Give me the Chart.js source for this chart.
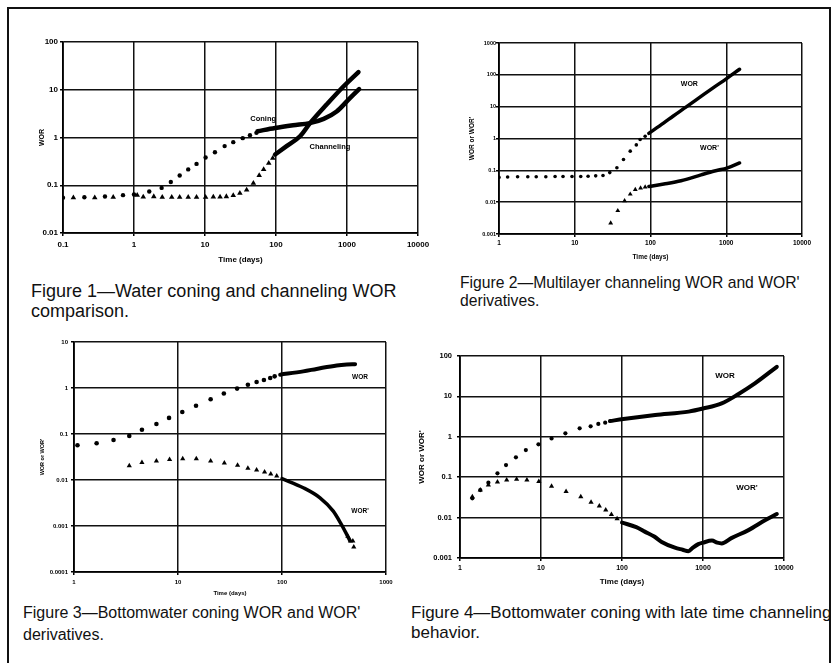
<!DOCTYPE html>
<html>
<head>
<meta charset="utf-8">
<script src="https://cdn.jsdelivr.net/npm/chart.js@4.4.1/dist/chart.umd.min.js"></script>
<style>
  body { margin: 0; background: #fff; width: 831px; height: 663px; overflow: hidden; position: relative; font-family: 'Liberation Sans', Arial, sans-serif; }
  .frame { position: absolute; left: 7px; top: 7px; width: 820px; height: 700px; border: 2px solid #111; }
  canvas { position: absolute; }
  .cap { position: absolute; white-space: nowrap; color: #111; line-height: 1; }
</style>
</head>
<body>
<div class="frame"></div>
<canvas id="fig1"></canvas>
<canvas id="fig2"></canvas>
<canvas id="fig3"></canvas>
<canvas id="fig4"></canvas>

<div class="cap" style="left:31px;top:282px;font-size:18px">Figure 1—Water coning and channeling WOR</div>
<div class="cap" style="left:31px;top:302px;font-size:18px">comparison.</div>
<div class="cap" style="left:460px;top:274.5px;font-size:15.7px">Figure 2—Multilayer channeling WOR and WOR'</div>
<div class="cap" style="left:460px;top:292.5px;font-size:15.7px">derivatives.</div>
<div class="cap" style="left:23px;top:604.5px;font-size:16px">Figure 3—Bottomwater coning WOR and WOR'</div>
<div class="cap" style="left:23px;top:627px;font-size:16px">derivatives.</div>
<div class="cap" style="left:411px;top:603.5px;font-size:17px">Figure 4—Bottomwater coning with late time channeling</div>
<div class="cap" style="left:411px;top:624px;font-size:17px">behavior.</div>

<script>
// Figure 1 - water coning vs channeling
const fig1XTicks = [0.1, 1, 10, 100, 1000, 10000]
const fig1XLabels = ['0.1', '1', '10', '100', '1000', '10000']
const fig1YTicks = [0.01, 0.1, 1, 10, 100]
const fig1YLabels = ['0.01', '0.1', '1', '10', '100']

const fig1ConingDotX = [0.1, 0.2, 0.39, 0.7, 1.0, 1.64, 2.45, 3.3, 4.4, 5.8, 7.6, 10.2, 13.8, 18.9, 25, 34, 43, 53]
const fig1ConingDotY = [0.055, 0.056, 0.058, 0.062, 0.064, 0.074, 0.088, 0.117, 0.16, 0.215, 0.28, 0.38, 0.49, 0.66, 0.8, 0.97, 1.12, 1.25]
const fig1ConingLineX = [55, 97, 174, 300, 470, 715, 1100, 1480]
const fig1ConingLineY = [1.35, 1.58, 1.8, 2.0, 2.45, 3.5, 6.7, 10.3]

const fig1ChanDotX = [0.14, 0.28, 0.51, 1.11, 1.35, 1.9, 2.5, 3.4, 4.4, 5.8, 7.6, 10.2, 13.1, 16.3, 20, 25, 31, 38.6, 48, 58, 67, 79, 90]
const fig1ChanDotY = [0.055, 0.055, 0.056, 0.062, 0.057, 0.058, 0.056, 0.056, 0.056, 0.056, 0.056, 0.056, 0.057, 0.057, 0.058, 0.061, 0.068, 0.08, 0.11, 0.16, 0.215, 0.29, 0.37]
const fig1ChanLineX = [97, 141, 218, 302, 516, 890, 1450]
const fig1ChanLineY = [0.44, 0.66, 1.06, 2.0, 4.9, 11.7, 23.5]

// Figure 2 - multilayer channeling
const fig2XTicks = [1, 10, 100, 1000, 10000]
const fig2XLabels = ['1', '10', '100', '1000', '10000']
const fig2YTicks = [0.001, 0.01, 0.1, 1, 10, 100, 1000]
const fig2YLabels = ['0.001', '0.01', '0.1', '1', '10', '100', '1000']

const fig2WorDotX = [1.0, 1.3, 1.76, 2.4, 3.1, 4.15, 5.5, 7.0, 9.2, 12, 15, 18.9, 23.6, 29, 36, 44, 54, 65, 73, 85]
const fig2WorDotY = [0.06, 0.062, 0.063, 0.063, 0.063, 0.063, 0.064, 0.064, 0.064, 0.064, 0.065, 0.067, 0.069, 0.085, 0.12, 0.22, 0.4, 0.63, 0.93, 1.18]
const fig2WorLineX = [95, 150, 200, 300, 500, 700, 1000, 1500]
const fig2WorLineY = [1.45, 3.1, 5.1, 10, 24, 42, 75, 150]
const fig2DerDotX = [29.8, 37, 45.5, 54, 63, 74, 85]
const fig2DerDotY = [0.0022, 0.0054, 0.011, 0.0178, 0.025, 0.0276, 0.03]
const fig2DerLineX = [95, 150, 253, 465, 700, 1040, 1500]
const fig2DerLineY = [0.031, 0.037, 0.047, 0.072, 0.095, 0.12, 0.17]

// Figure 3 - bottomwater coning
const fig3XTicks = [1, 10, 100, 1000]
const fig3XLabels = ['1', '10', '100', '1000']
const fig3YTicks = [0.0001, 0.001, 0.01, 0.1, 1, 10]
const fig3YLabels = ['0.0001', '0.001', '0.01', '0.1', '1', '10']

const fig3WorDotX = [1.08, 1.65, 2.4, 3.4, 4.5, 6.2, 8.2, 11, 14.9, 20.6, 27.6, 37, 47, 57, 67, 77, 85]
const fig3WorDotY = [0.057, 0.063, 0.074, 0.091, 0.124, 0.165, 0.224, 0.30, 0.41, 0.57, 0.76, 0.97, 1.18, 1.35, 1.49, 1.65, 1.79]
const fig3WorLineX = [96, 160, 215, 336, 420, 505]
const fig3WorLineY = [1.95, 2.3, 2.6, 3.1, 3.25, 3.3]
const fig3DerDotX = [3.4, 4.5, 6.2, 8.3, 11.1, 15, 20.6, 27.9, 37.4, 47, 57, 68, 78, 89, 430, 455, 480, 490]
const fig3DerDotY = [0.0204, 0.024, 0.026, 0.028, 0.0288, 0.0288, 0.026, 0.0234, 0.021, 0.018, 0.0165, 0.0149, 0.0135, 0.0122, 0.0006, 0.00047, 0.00047, 0.00035]
const fig3DerLineX = [100, 160, 232, 311, 373, 420, 450]
const fig3DerLineY = [0.0107, 0.0068, 0.0041, 0.0021, 0.00107, 0.00065, 0.00048]

// Figure 4 - bottomwater coning with late channeling
const fig4XTicks = [1, 10, 100, 1000, 10000]
const fig4XLabels = ['1', '10', '100', '1000', '10000']
const fig4YTicks = [0.001, 0.01, 0.1, 1, 10, 100]
const fig4YLabels = ['0.001', '0.01', '0.1', '1', '10', '100']

const fig4WorDotX = [1.42, 1.78, 2.24, 2.9, 3.7, 4.9, 6.5, 9.3, 13.5, 20, 30, 41, 51, 62]
const fig4WorDotY = [0.030, 0.048, 0.073, 0.125, 0.2, 0.31, 0.47, 0.65, 0.91, 1.22, 1.62, 1.82, 2.08, 2.24]
const fig4WorLineX = [71, 104, 257, 665, 1000, 1700, 2750, 4370, 8150]
const fig4WorLineY = [2.45, 2.75, 3.46, 4.2, 5.0, 6.7, 11.5, 21, 54]
const fig4DerDotX = [1.42, 1.78, 2.24, 2.9, 3.77, 5.0, 6.7, 9.4, 13.5, 20.4, 31, 41.5, 52.5, 63, 74, 87]
const fig4DerDotY = [0.033, 0.048, 0.064, 0.076, 0.085, 0.089, 0.085, 0.078, 0.06, 0.044, 0.033, 0.024, 0.0195, 0.0155, 0.012, 0.0093]
const fig4DerLineX = [100, 150, 191, 250, 309, 450, 560, 660, 750, 875, 1000, 1290, 1500, 1700, 2240, 3640, 5900, 8150]
const fig4DerLineY = [0.0075, 0.0058, 0.0045, 0.0034, 0.0025, 0.0018, 0.0016, 0.00147, 0.0018, 0.0022, 0.0024, 0.0027, 0.0024, 0.0023, 0.0031, 0.0049, 0.0087, 0.0123]

const pts = (xs, ys) => xs.map((x, i) => ({ x, y: ys[i] }))

const dots = (xs, ys, style, r) => ({
  data: pts(xs, ys), showLine: false, pointStyle: style, pointRadius: r,
  backgroundColor: '#000', borderColor: '#000', borderWidth: 0
})
const curve = (xs, ys, w) => ({
  data: pts(xs, ys), showLine: true, pointRadius: 0, borderColor: '#000',
  borderWidth: w, cubicInterpolationMode: 'monotone', borderCapStyle: 'round'
})

// text next to the curves, placed in data coordinates
const curveLabels = {
  id: 'curveLabels',
  beforeDatasetsDraw(chart, args, opts) {
    const { ctx, scales: { x, y } } = chart
    ctx.save()
    ctx.font = opts.font
    ctx.fillStyle = '#000'
    ctx.textAlign = 'center'
    ctx.textBaseline = 'middle'
    opts.items.forEach(it => ctx.fillText(it.text, x.getPixelForValue(it.x), y.getPixelForValue(it.y)))
    ctx.restore()
  }
}

function logAxis(ticks, labels, font, pad, title, titleFont, titlePad, fit) {
  return {
    type: 'logarithmic',
    min: ticks[0],
    max: ticks[ticks.length - 1],
    afterBuildTicks: s => { s.ticks = ticks.map(v => ({ value: v })) },
    afterFit: fit,
    ticks: {
      callback: (v, i) => labels[i],
      font, color: '#000', padding: pad, autoSkip: false, maxRotation: 0
    },
    grid: { color: '#111', lineWidth: 1.5, tickLength: 3, tickColor: '#000' },
    border: { color: '#000', width: 1.8 },
    title: { display: true, text: title, font: titleFont, color: '#000', padding: titlePad }
  }
}

// box: plot area plus where tick labels and titles sit
function makeChart(id, box, f, datasets, labels) {
  const padTop = 12, padRight = 26
  const yW = box.l - box.yTitleX + 10
  const xH = box.xTitleY - box.b + 10
  const canvas = document.getElementById(id)
  canvas.width = box.r - box.l + yW + padRight
  canvas.height = box.b - box.t + padTop + xH
  canvas.style.left = (box.l - yW) + 'px'
  canvas.style.top = (box.t - padTop) + 'px'

  const lh = s => s * 1.2
  new Chart(canvas, {
    type: 'scatter',
    data: { datasets },
    options: {
      responsive: false,
      animation: false,
      layout: { padding: { top: padTop, right: padRight, left: 0, bottom: 0 } },
      plugins: {
        legend: { display: false },
        tooltip: { enabled: false },
        curveLabels: { font: f.label, items: labels }
      },
      scales: {
        x: logAxis(box.xTicks, box.xLabels, f.xTick, box.xLabelY - box.b - 3 - lh(f.xTick.size) / 2,
          'Time (days)', f.xTitle, { top: 0, bottom: 10 - lh(f.xTitle.size) / 2 },
          s => { s.height = xH }),
        y: logAxis(box.yTicks, box.yLabels, f.yTick, box.l - box.yLabelEnd - 3,
          box.yTitle, f.yTitle, { top: 10 - lh(f.yTitle.size) / 2, bottom: 0 },
          s => { s.width = yW })
      }
    },
    plugins: [curveLabels]
  })
}

const ff = 'Liberation Sans, Arial, sans-serif'
const bold = size => ({ family: ff, size, weight: 'bold' })

makeChart('fig1',
  { l: 63, t: 42, r: 418, b: 233, yTitleX: 42, yLabelEnd: 58, xLabelY: 245, xTitleY: 260,
    xTicks: fig1XTicks, xLabels: fig1XLabels, yTicks: fig1YTicks, yLabels: fig1YLabels, yTitle: 'WOR' },
  { xTick: bold(8), yTick: bold(8), xTitle: bold(8), yTitle: bold(7), label: 'bold 7.5px ' + ff },
  [
    dots(fig1ConingDotX, fig1ConingDotY, 'circle', 2.2),
    curve(fig1ConingLineX, fig1ConingLineY, 4.5),
    dots(fig1ChanDotX, fig1ChanDotY, 'triangle', 3.2),
    curve(fig1ChanLineX, fig1ChanLineY, 4.5)
  ],
  [{ text: 'Coning', x: 66, y: 2.4 }, { text: 'Channeling', x: 574, y: 0.62 }])

makeChart('fig2',
  { l: 499, t: 43, r: 802, b: 234, yTitleX: 472, yLabelEnd: 496, xLabelY: 243, xTitleY: 257,
    xTicks: fig2XTicks, xLabels: fig2XLabels, yTicks: fig2YTicks, yLabels: fig2YLabels, yTitle: "WOR or WOR'" },
  { xTick: bold(6.5), yTick: bold(5.5), xTitle: bold(6.5), yTitle: bold(6.5), label: 'bold 7px ' + ff },
  [
    dots(fig2WorDotX, fig2WorDotY, 'circle', 1.8),
    curve(fig2WorLineX, fig2WorLineY, 3.5),
    dots(fig2DerDotX, fig2DerDotY, 'triangle', 2.8),
    curve(fig2DerLineX, fig2DerLineY, 3.5)
  ],
  [{ text: 'WOR', x: 326, y: 52 }, { text: "WOR'", x: 600, y: 0.49 }])

makeChart('fig3',
  { l: 74, t: 342, r: 386, b: 572, yTitleX: 42, yLabelEnd: 68, xLabelY: 582, xTitleY: 593,
    xTicks: fig3XTicks, xLabels: fig3XLabels, yTicks: fig3YTicks, yLabels: fig3YLabels, yTitle: "WOR or WOR'" },
  { xTick: bold(6), yTick: bold(6), xTitle: bold(6), yTitle: bold(5.5), label: 'bold 6.5px ' + ff },
  [
    dots(fig3WorDotX, fig3WorDotY, 'circle', 2.3),
    curve(fig3WorLineX, fig3WorLineY, 4),
    dots(fig3DerDotX, fig3DerDotY, 'triangle', 3),
    curve(fig3DerLineX, fig3DerLineY, 3.5)
  ],
  [{ text: 'WOR', x: 562, y: 1.74 }, { text: "WOR'", x: 562, y: 0.0021 }])

makeChart('fig4',
  { l: 460, t: 356, r: 784, b: 558, yTitleX: 422, yLabelEnd: 452, xLabelY: 568, xTitleY: 582,
    xTicks: fig4XTicks, xLabels: fig4XLabels, yTicks: fig4YTicks, yLabels: fig4YLabels, yTitle: "WOR or WOR'" },
  { xTick: bold(7), yTick: bold(7.5), xTitle: bold(8), yTitle: bold(8), label: 'bold 8px ' + ff },
  [
    dots(fig4WorDotX, fig4WorDotY, 'circle', 2.1),
    curve(fig4WorLineX, fig4WorLineY, 4),
    dots(fig4DerDotX, fig4DerDotY, 'triangle', 3),
    curve(fig4DerLineX, fig4DerLineY, 4)
  ],
  [{ text: 'WOR', x: 1870, y: 32 }, { text: "WOR'", x: 3480, y: 0.054 }])
</script>
</body>
</html>
